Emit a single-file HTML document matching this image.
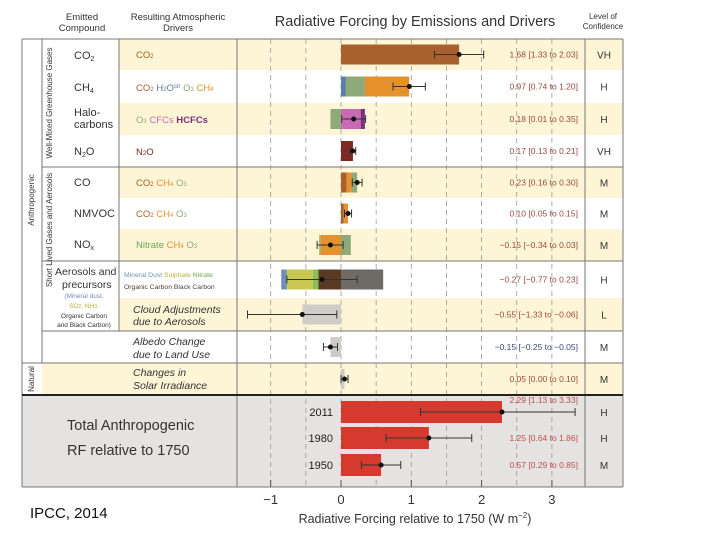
<!DOCTYPE html>
<html><head><meta charset="utf-8">
<style>
body{margin:0;background:#fff;width:720px;height:540px;overflow:hidden;font-family:"Liberation Sans",sans-serif}
svg text{font-family:"Liberation Sans",sans-serif}
</style></head>
<body>
<svg id="chart" width="720" height="540" viewBox="0 0 720 540" xmlns="http://www.w3.org/2000/svg">
<g id="bg"></g>
<g id="grid"></g>
<g id="bars"></g>
<g id="labels"></g>
</svg>
<script>
// ---- data ----
const rowNames = ["CO2","CH4","Halocarbons","N2O","CO","NMVOC","NOx","Aerosols","Cloud","Albedo","Solar"];
const segStarts = [[0],[0,0.07,0.34],[-0.15,0,0.28],[0],[0,0.08,0.15],[0,0.04],[-0.31,-0.29,0],[-0.85,-0.77,-0.4,-0.32,0],[-0.55],[-0.15],[0]];
const segEnds   = [[1.68],[0.07,0.34,0.97],[0,0.28,0.34],[0.17],[0.08,0.15,0.23],[0.04,0.10],[-0.29,0,0.14],[-0.77,-0.4,-0.32,0,0.6],[0],[0],[0.05]];
const segColors = [["#a8602c"],["#5b7fa6","#8fa97a","#e5922e"],["#8fa97a","#c86bb4","#7d2f7d"],["#7c2a23"],["#a8602c","#e5922e","#8fa97a"],["#a8602c","#e5922e"],["#8fb86a","#e5922e","#8fa97a"],["#6f8fb8","#c8c850","#8cbf5a","#5a3a22","#6e6a66"],["#d0cdc8"],["#cfccc8"],["#cfccc8"]];
const bestValues = [1.68,0.97,0.18,0.17,0.23,0.10,-0.15,-0.27,-0.55,-0.15,0.05];
const errLow = [1.33,0.74,0.01,0.13,0.16,0.05,-0.34,-0.77,-1.33,-0.25,0.00];
const errHigh = [2.03,1.20,0.35,0.21,0.30,0.15,0.03,0.23,-0.06,-0.05,0.10];
const valueLabels = ["1.68 [1.33 to 2.03]","0.97 [0.74 to 1.20]","0.18 [0.01 to 0.35]","0.17 [0.13 to 0.21]","0.23 [0.16 to 0.30]","0.10 [0.05 to 0.15]","\u22120.15 [\u22120.34 to 0.03]","\u22120.27 [\u22120.77 to 0.23]","\u22120.55 [\u22121.33 to \u22120.06]","\u22120.15 [\u22120.25 to \u22120.05]","0.05 [0.00 to 0.10]"];
const confidence = ["VH","H","H","VH","M","M","M","H","L","M","M"];
const totalYears = ["2011","1980","1950"];
const totalValues = [2.29,1.25,0.57];
const totalLow = [1.13,0.64,0.29];
const totalHigh = [3.33,1.86,0.85];
const totalLabels = ["2.29 [1.13 to 3.33]","1.25 [0.64 to 1.86]","0.57 [0.29 to 0.85]"];
const totalConf = ["H","H","M"];
const xTicks = [-1,0,1,2,3];
// ---- layout ----
const rowTops = [39,70,103,135,167,198,229,261,298,331,363,395];
const totalCenters = [412,438,465];
const X0 = 341, XS = 70.3;
function x(v){return X0 + v*XS;}
const NS="http://www.w3.org/2000/svg";
function mk(tag,attrs,parent,txt){const e=document.createElementNS(NS,tag);for(const k in attrs)e.setAttribute(k,attrs[k]);if(txt!==undefined)e.textContent=txt;document.getElementById(parent).appendChild(e);return e;}

// backgrounds
for(let i=0;i<rowNames.length;i++){
  if(i%2===0){
    const r=mk('rect',{x:(i>=9?42:119),y:rowTops[i],width:(i>=9?623-42:623-119),height:rowTops[i+1]-rowTops[i],fill:"#fdf5d6"},'bg');
    
    
  }
}
{const r=mk('rect',{x:22,y:395,width:601,height:92,fill:"#e4e3e1"},'bg');

}
// gridlines
for(let v=-1;v<=3;v+=0.5){
  const l=mk('line',{x1:x(v),x2:x(v),y1:39,y2:487,stroke:"#999",'stroke-width':0.8,'stroke-dasharray':"5,4"},'grid');
  
  
}
// frame lines
const frame=[[22,39,623,39],[22,39,22,487],[623,39,623,487],[42,39,42,363],[119,39,119,331],[237,39,237,487],[585,39,585,487],[42,167,623,167],[42,261,623,261],[42,331,623,331],[22,363,623,363],[22,487,623,487]];
frame.forEach(f=>{const l=mk('line',{x1:f[0],y1:f[1],x2:f[2],y2:f[3],stroke:"#777",'stroke-width':1},'grid');});
{const l=mk('line',{x1:22,y1:395,x2:623,y2:395,stroke:"#222",'stroke-width':2},'grid');}

function errbar(y,lo,hi,best){
  const g=mk('g',{},'bars');
  
  
  const a=document.createElementNS(NS,'line');a.setAttribute('x1',x(lo));a.setAttribute('x2',x(hi));a.setAttribute('y1',y);a.setAttribute('y2',y);a.setAttribute('stroke','#333');g.appendChild(a);
  [lo,hi].forEach(v=>{const c=document.createElementNS(NS,'line');c.setAttribute('x1',x(v));c.setAttribute('x2',x(v));c.setAttribute('y1',y-4);c.setAttribute('y2',y+4);c.setAttribute('stroke','#333');g.appendChild(c);});
  const d=document.createElementNS(NS,'circle');d.setAttribute('cx',x(best));d.setAttribute('cy',y);d.setAttribute('r',2.5);d.setAttribute('fill','#111');g.appendChild(d);
}
// bars
for(let i=0;i<rowNames.length;i++){
  const yc=(rowTops[i]+rowTops[i+1])/2;
  for(let j=0;j<segStarts[i].length;j++){
    const r=mk('rect',{x:x(segStarts[i][j]),y:yc-10,width:x(segEnds[i][j])-x(segStarts[i][j]),height:20,fill:segColors[i][j]},'bars');
    
    
  }
  errbar(yc,errLow[i],errHigh[i],bestValues[i]);
  const t=mk('text',{x:578,y:yc+3,'font-size':8.5,fill:(i===9?"#3c4a7a":"#9c4a3a"),'text-anchor':'end'},'labels',valueLabels[i]);
  
  
  const c=mk('text',{x:604,y:yc+4,'font-size':10,fill:"#333",'text-anchor':'middle'},'labels',confidence[i]);
  
  
}
for(let i=0;i<totalYears.length;i++){
  const yc=totalCenters[i];
  const r=mk('rect',{x:x(0),y:yc-11,width:x(totalValues[i])-x(0),height:22,fill:"#d63a2f"},'bars');
  
  
  errbar(yc,totalLow[i],totalHigh[i],totalValues[i]);
  const y=mk('text',{x:333,y:yc+4,'font-size':11,fill:"#222",'text-anchor':'end'},'labels',totalYears[i]);
  
  
  const t=mk('text',{x:578,y:(i===0?yc-9:yc+3),'font-size':8.5,fill:"#c0504a",'text-anchor':'end'},'labels',totalLabels[i]);
  
  
  const c=mk('text',{x:604,y:yc+4,'font-size':10,fill:"#333",'text-anchor':'middle'},'labels',totalConf[i]);
  
  
}
for(const v of xTicks){
  const t=mk('text',{x:x(v),y:504,'font-size':13,fill:"#333",'text-anchor':'middle'},'labels',v<0?"\u2212"+(-v):String(v));
  
  
  const k=mk('line',{x1:x(v),x2:x(v),y1:480,y2:487,stroke:"#555"},'grid');
  
  
}
</script>
<svg style="position:absolute;left:0;top:0" width="720" height="540">
<g font-family="Liberation Sans, sans-serif" fill="#333">
<text x="82" y="20" font-size="9.5" text-anchor="middle">Emitted</text>
<text x="82" y="31" font-size="9.5" text-anchor="middle">Compound</text>
<text x="178" y="20" font-size="9.5" text-anchor="middle">Resulting Atmospheric</text>
<text x="178" y="31" font-size="9.5" text-anchor="middle">Drivers</text>
<text x="415" y="26" font-size="14.5" text-anchor="middle">Radiative Forcing by Emissions and Drivers</text>
<text x="603" y="19" font-size="8" text-anchor="middle">Level of</text>
<text x="603" y="29" font-size="8" text-anchor="middle">Confidence</text>
<text transform="translate(34,200) rotate(-90)" font-size="8" text-anchor="middle">Anthropogenic</text>
<text transform="translate(34,379) rotate(-90)" font-size="8" text-anchor="middle">Natural</text>
<text transform="translate(52,103) rotate(-90)" font-size="8" text-anchor="middle">Well-Mixed Greenhouse Gases</text>
<text transform="translate(52,230) rotate(-90)" font-size="8" text-anchor="middle">Short Lived Gases and Aerosols</text>
<g font-size="11">
<text x="74" y="59">CO<tspan font-size="7" dy="2">2</tspan></text>
<text x="74" y="91">CH<tspan font-size="7" dy="2">4</tspan></text>
<text x="74" y="116">Halo-</text>
<text x="74" y="128">carbons</text>
<text x="74" y="155">N<tspan font-size="7" dy="2">2</tspan><tspan dy="-2">O</tspan></text>
<text x="74" y="186">CO</text>
<text x="74" y="217">NMVOC</text>
<text x="74" y="248">NO<tspan font-size="7" dy="2">x</tspan></text>
<text x="55" y="275" font-size="10.5">Aerosols and</text>
<text x="62" y="288" font-size="10.5">precursors</text>
</g>
<g font-size="6.5" text-anchor="middle">
<text x="84" y="298" fill="#6f8fb8">(Mineral dust,</text>
<text x="84" y="308" fill="#b8b040">SO<tspan font-size="5">2</tspan>, NH<tspan font-size="5">3</tspan>,</text>
<text x="84" y="318">Organic Carbon</text>
<text x="84" y="327">and Black Carbon)</text>
</g>
<g font-size="9.5">
<text x="136" y="58" fill="#a8602c">CO<tspan font-size="6">2</tspan></text>
<text x="136" y="91" fill="#a8602c">CO<tspan font-size="6">2</tspan> <tspan fill="#5b7fa6">H<tspan font-size="6">2</tspan>O<tspan font-size="6" dy="-3">str</tspan></tspan><tspan dy="3" fill="#8fa97a"> O<tspan font-size="6">3</tspan></tspan><tspan fill="#e5922e"> CH<tspan font-size="6">4</tspan></tspan></text>
<text x="136" y="123" fill="#8fa97a">O<tspan font-size="6">3</tspan> <tspan fill="#c86bb4">CFCs</tspan> <tspan fill="#7d2f7d" font-weight="bold">HCFCs</tspan></text>
<text x="136" y="155" fill="#7c2a23">N<tspan font-size="6">2</tspan>O</text>
<text x="136" y="186" fill="#a8602c">CO<tspan font-size="6">2</tspan> <tspan fill="#e5922e">CH<tspan font-size="6">4</tspan></tspan> <tspan fill="#8fa97a">O<tspan font-size="6">3</tspan></tspan></text>
<text x="136" y="217" fill="#a8602c">CO<tspan font-size="6">2</tspan> <tspan fill="#e5922e">CH<tspan font-size="6">4</tspan></tspan> <tspan fill="#8fa97a">O<tspan font-size="6">3</tspan></tspan></text>
<text x="136" y="248" fill="#6aa84f">Nitrate <tspan fill="#e5922e">CH<tspan font-size="6">4</tspan></tspan> <tspan fill="#8fa97a">O<tspan font-size="6">3</tspan></tspan></text>
</g>
<g font-size="6.8">
<text x="124" y="277" fill="#6f8fb8">Mineral Dust <tspan fill="#b8b040">Sulphate</tspan> <tspan fill="#6aa84f">Nitrate</tspan></text>
<text x="124" y="289" fill="#5a3a22">Organic Carbon <tspan fill="#444">Black Carbon</tspan></text>
</g>
<g font-size="10.5" font-style="italic">
<text x="133" y="313">Cloud Adjustments</text>
<text x="133" y="325">due to Aerosols</text>
<text x="133" y="345">Albedo Change</text>
<text x="133" y="358">due to Land Use</text>
<text x="133" y="376">Changes in</text>
<text x="133" y="389">Solar Irradiance</text>
</g>
<text x="67" y="430" font-size="14.5">Total Anthropogenic</text>
<text x="67" y="455" font-size="14.5">RF relative to 1750</text>
<text x="415" y="523" font-size="12.5" text-anchor="middle">Radiative Forcing relative to 1750 (W m<tspan font-size="8" dy="-5">−2</tspan><tspan dy="5">)</tspan></text>
<text x="30" y="518" font-size="15" fill="#111">IPCC, 2014</text>
</g>
</svg>
</body></html>
